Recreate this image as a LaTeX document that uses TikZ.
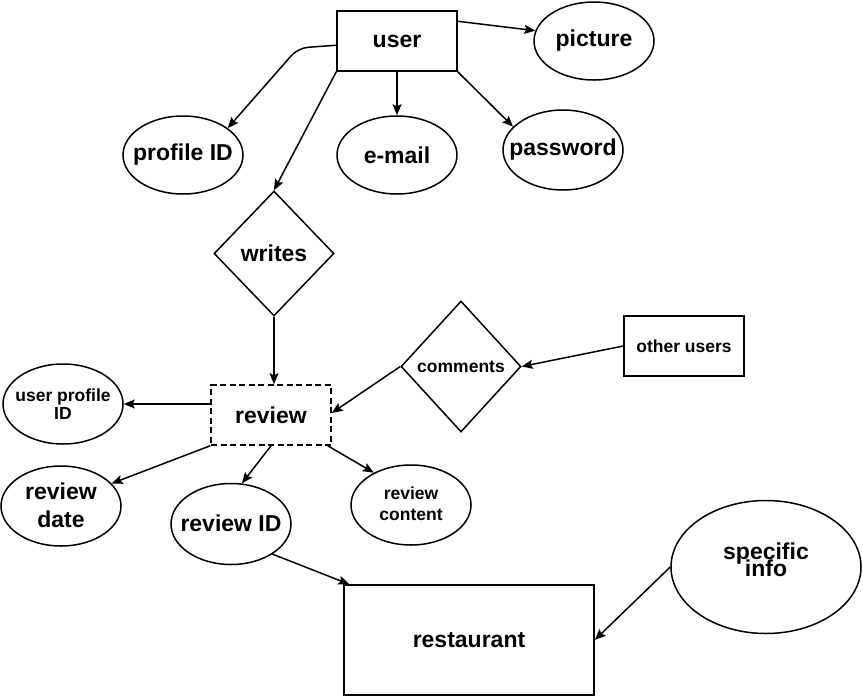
\documentclass[tikz,border=0pt]{standalone}
\usepackage{fontspec}
\setmainfont{Liberation Sans}
\usetikzlibrary{shapes.geometric,arrows.meta,calc}
\begin{document}
\begin{tikzpicture}[x=1pt,y=-1pt,
  every node/.style={text=black, inner sep=0pt, align=center},
  big/.style={font=\fontsize{23}{28}\selectfont\bfseries},
  small/.style={font=\fontsize{17.5}{21}\selectfont\bfseries},
  ent/.style={draw, line width=1.5pt, rectangle},
  attr/.style={draw, line width=1.5pt, ellipse, minimum width=120pt, minimum height=78pt},
  rel/.style={draw, line width=1.5pt, diamond, minimum width=120pt},
  arr/.style={line width=1.5pt, -{Stealth[length=11pt,width=9pt,inset=2pt]}}
]
\useasboundingbox (0,0) rectangle (863,697);
\fill[white] (0,0) rectangle (863,697);

% entities
\node[ent, big, minimum width=120pt, minimum height=60pt] (user) at (397,41) {user};
\node[ent, big, dash pattern=on 6pt off 3.5pt, minimum width=120pt, minimum height=60pt] (review) at (271,415) {review};
\node[ent, small, minimum width=120pt, minimum height=60pt] (other) at (684,346) {other users};
\node[ent, big, minimum width=250pt, minimum height=110pt] (rest) at (469,640) {restaurant};

% attributes (fixed-size ellipses, text set on top)
\node[attr] (pic) at (594,41) {};
\node[big] at (594,41) {picture};
\node[attr] (pid) at (183,155) {};
\node[big] at (183,155) {profile ID};
\node[attr] (email) at (397,155) {};
\node[big] at (397,155) {e-mail};
\node[attr, minimum height=80pt] (pw) at (563,150) {};
\node[big] at (563,150) {password};
\node[attr, minimum height=80pt] (upid) at (63,404) {};
\node[small, font=\fontsize{17.5}{18}\selectfont\bfseries] at (63,404) {user profile\\ID};
\node[attr, minimum height=80pt] (rdate) at (61,506) {};
\node[big] at (61,505) {review\\date};
\node[attr, minimum height=81pt] (rid) at (231,524) {};
\node[big] at (231,523) {review ID};
\node[attr, minimum height=80pt] (rcont) at (411,505) {};
\node[small] at (411,504) {review\\content};
\node[attr, minimum width=190pt, minimum height=133pt] (si) at (766,567) {};
\node[big] at (766,554) {specific};
\node[big] at (766,568) {info};

% relationships
\node[rel, big, minimum height=125pt] (writes) at (274,253.5) {writes};
\node[rel, small, minimum height=131pt] (comm) at (461,366.5) {comments};

% connectors
\draw[arr, rounded corners=10pt] (user.184) -- (298,48) -- (pid.31);
\draw[arr] (user.south west) -- (writes.north);
\draw[arr] (user.south) -- (email.north);
\draw[arr] (user.south east) -- (pw.155);
\draw[arr] (user.18) -- (pic.170);
\draw[arr] (writes.south) -- (writes.south |- review.north);
\draw[arr] (review.west |- upid.east) -- (upid.east);
\draw[arr] (review.south west) -- (rdate.24);
\draw[arr] (review.south) -- (rid.75);
\draw[arr] ($(review.south east)+(-4,0)$) -- (rcont.139);
\draw[arr] (comm.west) -- ($(review.east)+(0,-2)$);
\draw[arr] (other.west) -- (comm.east);
\draw[arr] (rid.-36) -- ($(rest.north west)+(6,0)$);
\draw[arr] (si.west) -- (rest.east);
\end{tikzpicture}
\end{document}
